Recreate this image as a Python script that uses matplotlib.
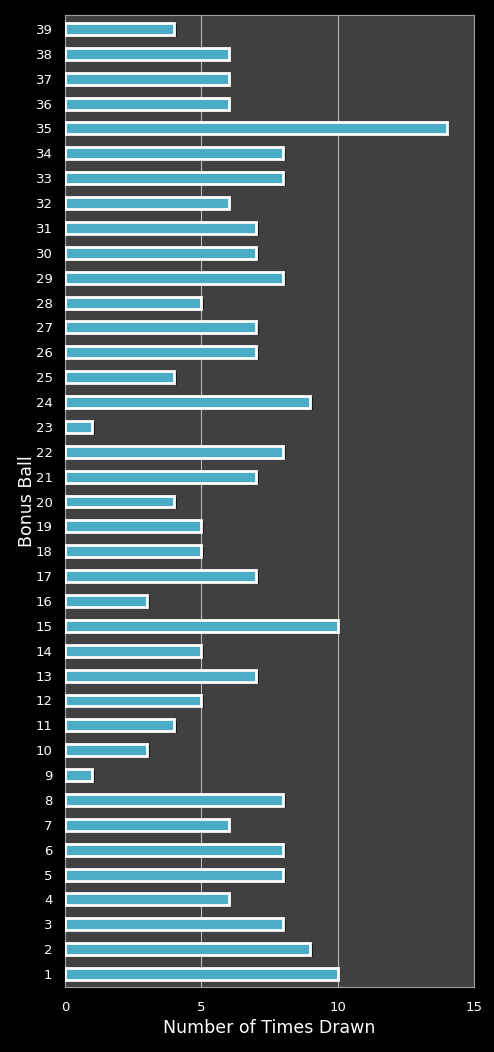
import matplotlib.pyplot as plt

balls = list(range(1, 40))
draws = [10, 9, 8, 6, 8, 8, 6, 8, 1, 3,
         4, 5, 7, 5, 10, 3, 7, 5, 5, 4,
         7, 8, 1, 9, 4, 7, 7, 5, 8, 7,
         7, 6, 8, 8, 14, 6, 6, 6, 4]

fig = plt.figure(figsize=(4.94, 10.52), dpi=100, facecolor='black')
ax = fig.add_axes([0.1316, 0.0618, 0.8279, 0.9239])
ax.set_facecolor('#404040')

# shadow then bar
ax.barh([b - 0.06 for b in balls], [d + 0.05 for d in draws], height=0.5,
        left=0.05, color='#1a1a1a', zorder=2)
ax.barh(balls, draws, height=0.48, color='#4bacc6', edgecolor='white',
        linewidth=2, zorder=3)

ax.set_xlim(0, 15)
ax.set_ylim(0.48, 39.56)
ax.set_xticks([0, 5, 10, 15])
ax.set_yticks(balls)
ax.set_yticklabels([str(b) for b in balls])
ax.xaxis.grid(True, color='#b8b8b8', linewidth=0.8, zorder=1)
ax.set_axisbelow(True)
ax.tick_params(colors='white', length=0, labelsize=9.5)
ax.tick_params(axis='x', pad=10)
ax.tick_params(axis='y', pad=9)
for s in ax.spines.values():
    s.set_color('#a0a0a0')
    s.set_linewidth(0.8)

ax.set_xlabel('Number of Times Drawn', color='white', fontsize=12.5, labelpad=4)
ax.set_ylabel('Bonus Ball', color='white', fontsize=12.5, labelpad=0)

fig.savefig('out.png', dpi=100, facecolor='black')
